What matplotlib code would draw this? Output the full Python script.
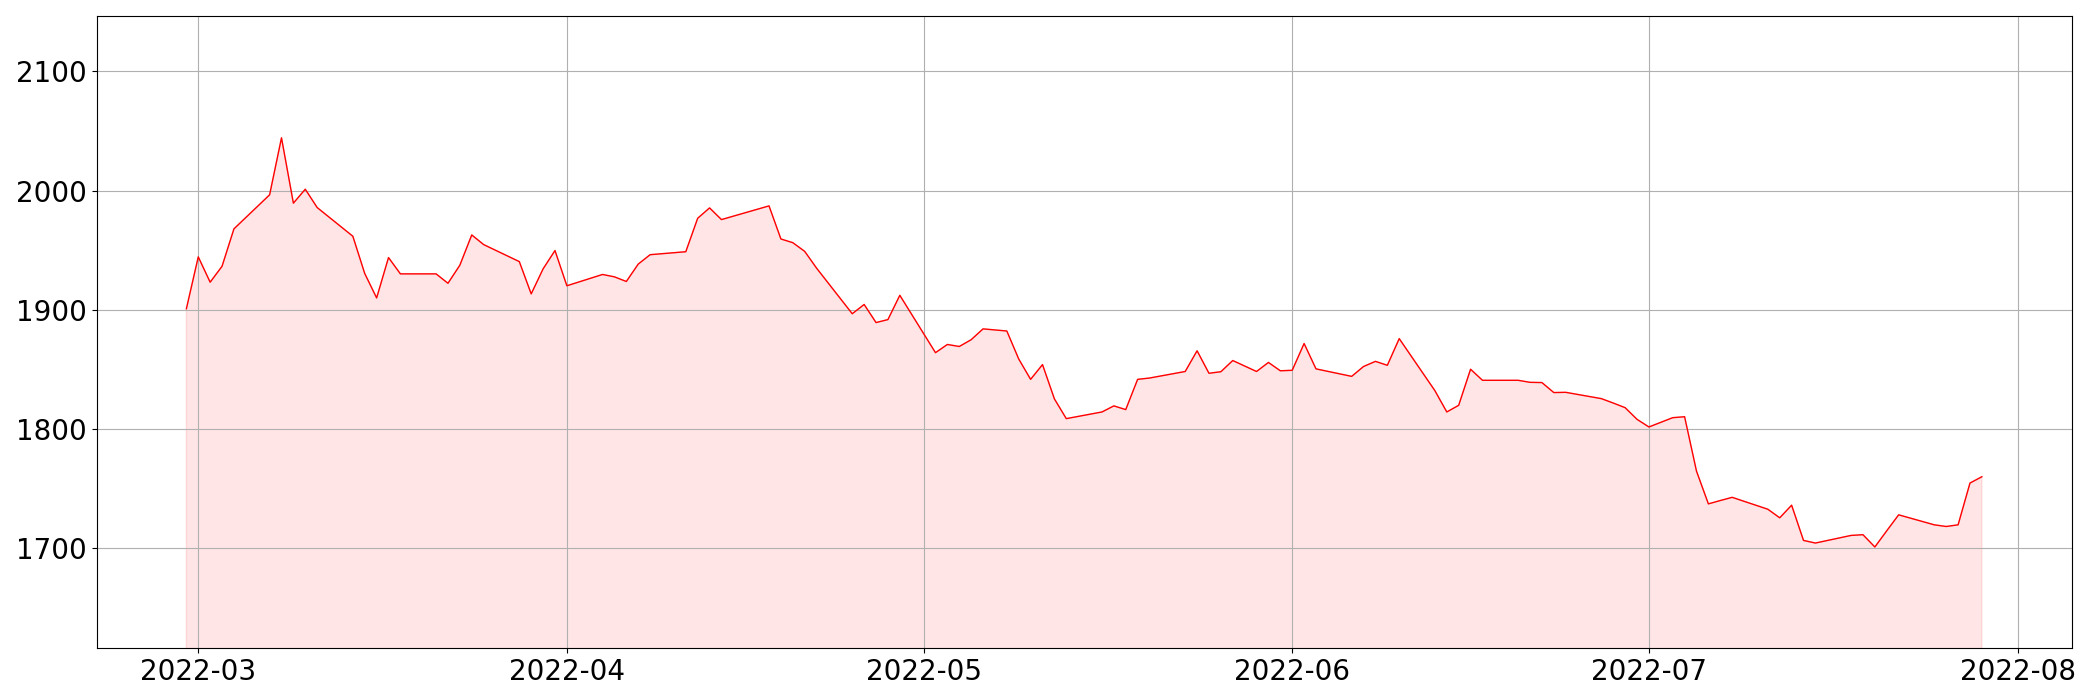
import matplotlib
matplotlib.use("Agg")
import matplotlib.pyplot as plt
import pandas as pd

# ── Data ──────────────────────────────────────────────────────────────────────
dates = [
    "2022-02-28", "2022-03-01", "2022-03-02", "2022-03-03", "2022-03-04",
    "2022-03-07", "2022-03-08", "2022-03-09", "2022-03-10", "2022-03-11",
    "2022-03-14", "2022-03-15", "2022-03-16", "2022-03-17", "2022-03-18",
    "2022-03-21", "2022-03-22", "2022-03-23", "2022-03-24", "2022-03-25",
    "2022-03-28", "2022-03-29", "2022-03-30", "2022-03-31", "2022-04-01",
    "2022-04-04", "2022-04-05", "2022-04-06", "2022-04-07", "2022-04-08",
    "2022-04-11", "2022-04-12", "2022-04-13", "2022-04-14",
    "2022-04-18", "2022-04-19", "2022-04-20", "2022-04-21", "2022-04-22",
    "2022-04-25", "2022-04-26", "2022-04-27", "2022-04-28", "2022-04-29",
    "2022-05-02", "2022-05-03", "2022-05-04", "2022-05-05", "2022-05-06",
    "2022-05-08", "2022-05-09", "2022-05-10", "2022-05-11", "2022-05-12",
    "2022-05-13", "2022-05-16", "2022-05-17", "2022-05-18", "2022-05-19",
    "2022-05-20", "2022-05-23", "2022-05-24", "2022-05-25", "2022-05-26",
    "2022-05-27", "2022-05-29", "2022-05-30", "2022-05-31", "2022-06-01",
    "2022-06-02", "2022-06-03", "2022-06-06", "2022-06-07", "2022-06-08",
    "2022-06-09", "2022-06-10", "2022-06-13", "2022-06-14", "2022-06-15",
    "2022-06-16", "2022-06-17", "2022-06-20", "2022-06-21", "2022-06-22",
    "2022-06-23", "2022-06-24", "2022-06-27", "2022-06-28", "2022-06-29",
    "2022-06-30", "2022-07-01", "2022-07-03", "2022-07-04", "2022-07-05",
    "2022-07-06", "2022-07-07", "2022-07-08", "2022-07-11", "2022-07-12",
    "2022-07-13", "2022-07-14", "2022-07-15", "2022-07-18", "2022-07-19",
    "2022-07-20", "2022-07-21", "2022-07-22", "2022-07-25", "2022-07-26",
    "2022-07-27", "2022-07-28", "2022-07-29",
]

prices = [
    1900.7, 1944.3, 1923.0, 1936.4, 1967.8,
    1996.4, 2044.3, 1989.4, 2001.1, 1985.7,
    1961.6, 1930.3, 1909.8, 1943.7, 1930.0,
    1930.0, 1922.1, 1937.3, 1962.7, 1954.6,
    1940.3, 1913.2, 1934.2, 1949.6, 1920.0,
    1929.5, 1927.5, 1923.6, 1938.2, 1946.1,
    1948.6, 1976.7, 1985.4, 1975.6,
    1987.1, 1959.3, 1956.2, 1948.9, 1934.8,
    1896.5, 1904.3, 1889.1, 1891.6, 1912.0,
    1863.8, 1870.7, 1869.0, 1874.7, 1883.8,
    1882.0, 1858.5, 1841.4, 1853.8, 1825.0,
    1808.4, 1814.0, 1819.1, 1816.0, 1841.4,
    1842.5, 1848.0, 1865.4, 1846.5, 1847.8,
    1857.2, 1848.0, 1855.6, 1848.6, 1849.0,
    1871.5, 1850.2, 1843.9, 1852.2, 1856.5,
    1853.2, 1875.6, 1831.9, 1814.0, 1819.6,
    1849.9, 1840.6, 1840.6, 1838.9, 1838.7,
    1830.3, 1830.5, 1825.2, 1821.5, 1817.6,
    1807.8, 1801.4, 1809.2, 1810.0, 1764.3,
    1736.8, 1739.6, 1742.3, 1732.3, 1725.1,
    1735.7, 1706.1, 1703.9, 1710.3, 1710.9,
    1700.6, 1714.2, 1727.6, 1719.2, 1717.8,
    1719.2, 1754.3, 1759.6,
]

x = pd.to_datetime(dates)

# ── Plot ──────────────────────────────────────────────────────────────────────
fig, ax = plt.subplots(figsize=(21, 7), dpi=100)
fig.subplots_adjust(left=0.046, right=0.9865, top=0.977, bottom=0.074)

ax.plot(x, prices, color="red", linewidth=1)
ax.fill_between(x, prices, 0, color="red", alpha=0.1)

ax.set_ylim(min(prices) * 0.95, max(prices) * 1.05)
ax.grid(True)
ax.tick_params(labelsize=20)

fig.savefig("out.png")
